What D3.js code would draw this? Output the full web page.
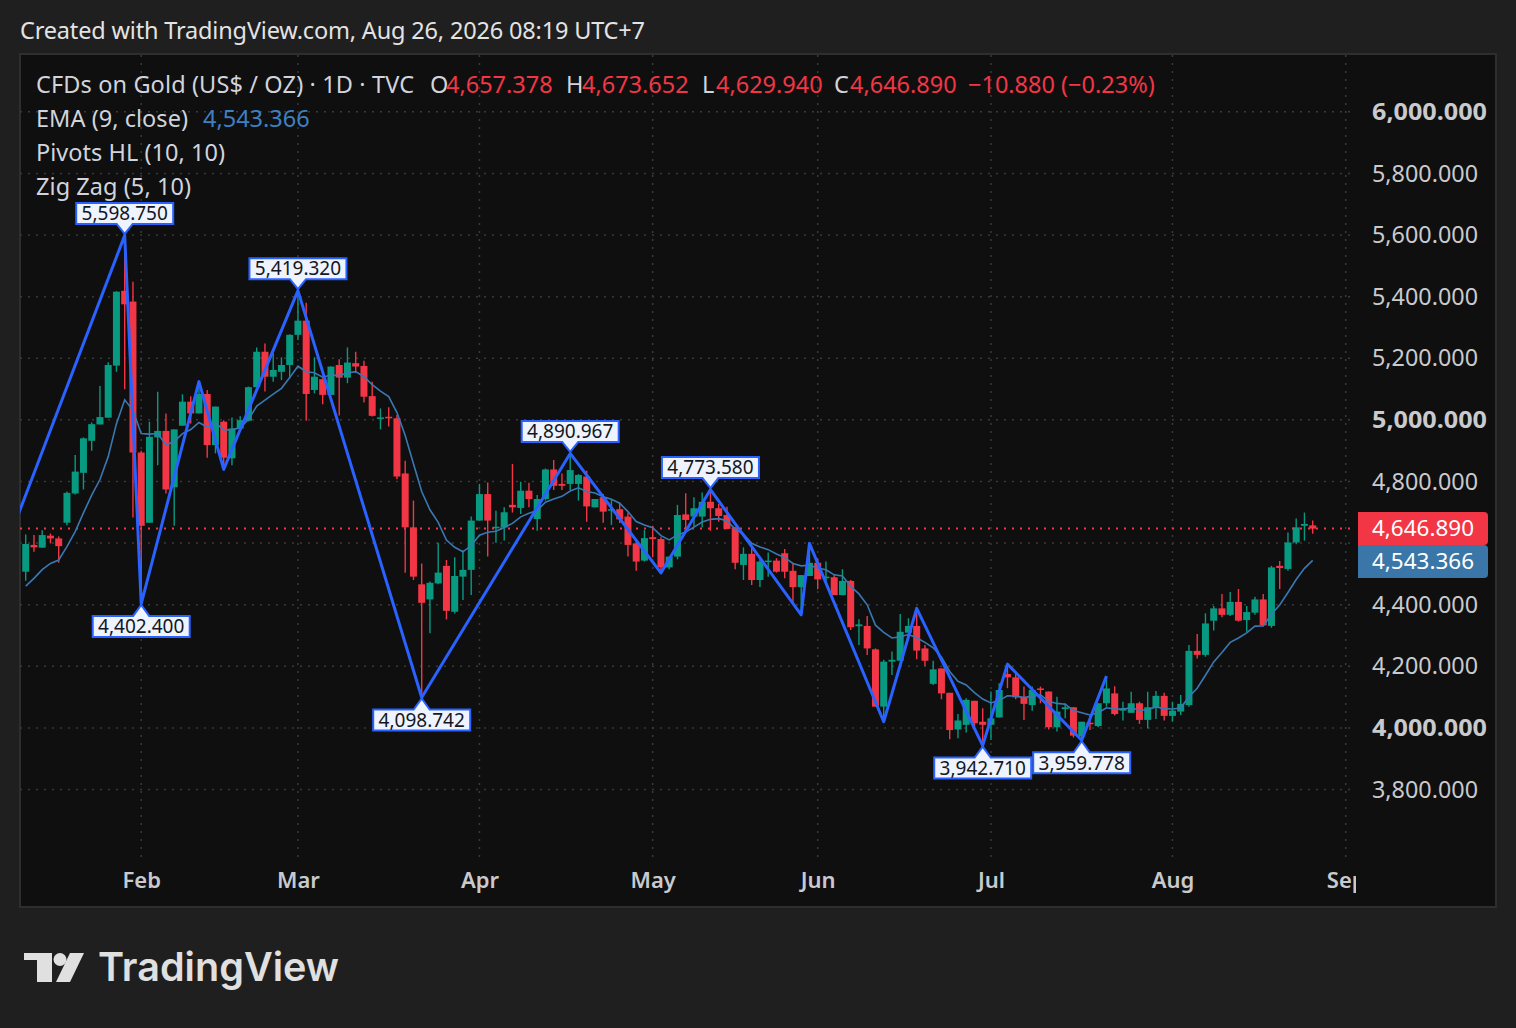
<!DOCTYPE html>
<html><head><meta charset="utf-8">
<script src="https://cdn.jsdelivr.net/npm/d3@7"></script>
<style>
html,body{margin:0;padding:0;background:#1f1f1f;}
svg{display:block;font-family:"Noto Sans","Open Sans",sans-serif;}
</style>
</head><body>
<svg id="chart" width="1516" height="1028"></svg>
<script>
// ---------- DATA ----------
const opens  = [4507,4594,4585,4624,4615,4666,4761,4828,4932,4985,5007,5176,5419,5384,4894,4666,4943,4964,4781,4981,
5059,5021,5084,4918,4994,4875,4972,4997,5106,5221,5140,5156,5178,5276,5322,5097,5132,5081,5178,5137,
5184,5175,5077,5003,5010,5005,4826,4651,4466,4417,4469,4526,4377,4491,4513,4673,4759,4648,4651,4724,
4714,4770,4678,4743,4839,4792,4792,4792,4816,4716,4749,4705,4710,4686,4599,4543,4619,4613,4521,4556,
4693,4686,4686,4734,4713,4691,4651,4529,4565,4480,4540,4543,4567,4510,4457,4493,4536,4486,4489,4431,
4477,4330,4331,4255,4069,4215,4218,4309,4331,4258,4143,4193,4114,3995,4010,4088,4020,4010,4034,4175,
4164,4101,4074,4128,4118,4002,4061,4067,3972,4017,4006,4080,4112,4056,4049,4080,4026,4067,4104,4039,
4053,4074,4250,4237,4348,4388,4367,4409,4350,4374,4417,4331,4526,4516,4602,4656,4657.378];
const highs  = [4628,4626,4642,4631,4621,4767,4886,4943,4991,5110,5187,5418,5598.75,5448,4900,4994,5091,5021,4969,5083,
5077,5124,5097,5043,4999,5008,5012,5108,5235,5248,5216,5203,5278,5419.32,5380,5203,5135,5173,5197,5235,
5221,5192,5124,5037,5041,5016,4867,4738,4534,4475,4601,4545,4554,4577,4686,4792,4797,4705,4716,4857,
4799,4796,4756,4842,4870,4826,4890.967,4824,4835,4743,4759,4743,4731,4699,4610,4642,4656,4619,4556,4724,
4762,4749,4764,4773.58,4727,4718,4651,4586,4586,4554,4569,4551,4581,4536,4496,4599,4551,4540,4496,4515,
4480,4353,4363,4258,4221,4248,4370,4356,4388,4269,4218,4193,4114,4045,4096,4088,4064,4118,4145,4207,
4177,4134,4134,4134,4118,4101,4080,4067,4020,4039,4080,4168,4135,4085,4117,4085,4117,4120,4114,4085,
4107,4269,4305,4372,4396,4435,4441,4451,4396,4426,4435,4526,4542,4634,4680,4699,4673.652];
const lows   = [4478,4572,4585,4599,4536,4658,4758,4774,4900,4985,5007,5156,5099,4683,4402.4,4666,4853,4761,4656,4981,
4988,5021,4877,4891,4839,4853,4970,4995,5106,5092,5124,5129,5135,5259,4997,5086,5051,5081,5014,5119,
5153,5056,5011,4969,4978,4807,4504,4480,4098.742,4307,4466,4352,4371,4415,4431,4673,4556,4601,4608,4699,
4694,4716,4640,4738,4772,4772,4772,4738,4669,4716,4666,4659,4665,4556,4510,4540,4554,4503,4515,4547,
4646,4653,4651,4640,4669,4646,4515,4480,4464,4457,4491,4504,4486,4406,4367,4493,4450,4469,4431,4431,
4318,4269,4237,4069,4020,4172,4218,4309,4223,4201,4139,4093,3963,3966,3985,4002,3942.71,3961,4034,4129,
4093,4026,4056,4080,3995,3988,4031,3969,3959.778,3993,4002,4069,4040,4024,4049,4013,3998,4029,4024,4020,
4042,4069,4225,4231,4316,4359,4363,4345,4312,4367,4333,4325,4451,4510,4596,4608,4629.94];
const closes = [4597,4586,4626,4615,4590,4763,4832,4940,4986,5009,5178,5416,5375,4894,4656,4945,4964,4774,4969,5059,
5021,5084,4918,5043,4877,4972,4999,5106,5221,5140,5162,5178,5276,5322,5084,5140,5081,5173,5137,5186,
5173,5075,5013,5008,5005,4816,4651,4491,4406,4471,4504,4380,4493,4513,4673,4759,4673,4653,4700,4716,
4770,4743,4743,4839,4786,4786,4837,4821,4719,4743,4702,4710,4677,4594,4540,4616,4613,4521,4556,4691,
4675,4713,4734,4713,4688,4646,4536,4565,4480,4540,4543,4507,4507,4457,4496,4536,4482,4491,4431,4477,
4327,4336,4258,4069,4215,4221,4312,4331,4251,4218,4190,4112,3993,4024,4091,4015,4010,4031,4123,4164,
4099,4078,4123,4123,4002,4053,4067,3975,4020,4012,4080,4128,4045,4063,4080,4026,4067,4104,4039,4056,
4078,4250,4237,4339,4388,4367,4409,4348,4376,4417,4333,4521,4519,4602,4651,4662,4646.89];

// EMA(9) value just before the first visible bar
const emaSeed = 4426;
const emaLast = 4543.366;

// Zig Zag vertices (bar index, price); the first one lies left of the visible range
const zzIndex = [-5,12,14,21,24,33,48,66,77,83,94,95,104,108,116,119,128,131];
const zzPrice = [4405,5598.75,4402.4,5124,4839,5419.32,4098.742,4890.967,4503,4773.58,4367,4599,4020,4388,3942.71,4207,3959.778,4168];

// Pivots HL labels
const pivotIndex = [12,14,33,48,66,83,116,128];
const pivotPrice = [5598.75,4402.4,5419.32,4098.742,4890.967,4773.58,3942.71,3959.778];
const pivotType  = ["H","L","H","L","H","H","L","L"];

// Calendar
const firstDay = "2026-01-12", lastAxisDay = "2026-09-01";
const holidays = ["2026-01-19","2026-02-16","2026-04-03","2026-05-25","2026-06-19","2026-07-03"];
const monthLabels = ["Feb","Mar","Apr","May","Jun","Jul","Aug","Sep"];
const priceTicks = [3800,4000,4200,4400,4600,4800,5000,5200,5400,5600,5800,6000];

// Header
const titleText = "Created with TradingView.com, Aug 26, 2026 08:19 UTC+7";
const symbolText = "CFDs on Gold (US$ / OZ) \u00b7 1D \u00b7 TVC";
const ohlcText = ["4,657.378","4,673.652","4,629.940","4,646.890"];
const changeText = "\u221210.880 (\u22120.23%)";

// ---------- BUILD ----------
const fmtDay = d3.timeFormat("%Y-%m-%d");
const parse = d3.timeParse("%Y-%m-%d");
const days = d3.timeDay.range(parse(firstDay), d3.timeDay.offset(parse(lastAxisDay),1))
  .filter(d => d.getDay()!==0 && d.getDay()!==6 && !holidays.includes(fmtDay(d)));
const monthTickIdx = [];
days.forEach((d,i)=>{ if(i>0 && d.getMonth()!==days[i-1].getMonth()) monthTickIdx.push(i); });

const bars = opens.map((o,i)=>({i, o, h:highs[i], l:lows[i], c:closes[i]}));
const ema = []; let prev = emaSeed;
closes.forEach(c => { prev = prev + (c - prev) * 2/10; ema.push(prev); });

const svg = d3.select("#chart");
const W=1516,H=1028;
const plot = {l:20, t:55, r:1356, b:860};

const x = d3.scaleLinear().domain([0,160]).range([25.7, 1345.7]);
const y = d3.scaleLinear().domain([3800,6000]).range([789.5, 111.8]);

const UP="#089981", DOWN="#f23645", ZZ="#2962ff", EMAC="#3a78b3";

svg.append("rect").attr("width",W).attr("height",H).attr("fill","#1f1f1f");
svg.append("rect").attr("x",20).attr("y",54).attr("width",1476).attr("height",853)
  .attr("fill","#0f0f0f").attr("stroke","#2e2e2e").attr("stroke-width",2);

const defs = svg.append("defs");
defs.append("clipPath").attr("id","plotClip").append("rect")
  .attr("x",plot.l).attr("y",plot.t).attr("width",plot.r-plot.l).attr("height",plot.b-plot.t);
defs.append("clipPath").attr("id","timeClip").append("rect")
  .attr("x",plot.l).attr("y",plot.b).attr("width",plot.r-plot.l).attr("height",46);

const g = svg.append("g").attr("clip-path","url(#plotClip)");

// grid
g.append("g").selectAll("line").data(priceTicks).join("line")
  .attr("x1",plot.l).attr("x2",plot.r).attr("y1",d=>y(d)).attr("y2",d=>y(d))
  .attr("stroke","#3a3a3a").attr("stroke-width",1.5).attr("stroke-dasharray","2 6");
g.append("g").selectAll("line").data(monthTickIdx).join("line")
  .attr("x1",d=>x(d)).attr("x2",d=>x(d)).attr("y1",plot.t).attr("y2",plot.b)
  .attr("stroke","#3a3a3a").attr("stroke-width",1.5).attr("stroke-dasharray","2 6");

// last price line
const lastClose = closes[closes.length-1];
g.append("line").attr("x1",plot.l).attr("x2",plot.r).attr("y1",y(lastClose)).attr("y2",y(lastClose))
  .attr("stroke",DOWN).attr("stroke-width",2).attr("stroke-dasharray","2 6");

// candles
const cg = g.append("g");
const bw = 7;
cg.selectAll("line.w").data(bars).join("line").attr("class","w")
  .attr("x1",d=>x(d.i)).attr("x2",d=>x(d.i)).attr("y1",d=>y(d.h)).attr("y2",d=>y(d.l))
  .attr("stroke",d=>d.c>=d.o?UP:DOWN).attr("stroke-width",1.4);
cg.selectAll("rect.b").data(bars).join("rect").attr("class","b")
  .attr("x",d=>x(d.i)-bw/2).attr("width",bw)
  .attr("y",d=>Math.min(y(d.o),y(d.c)))
  .attr("height",d=>Math.max(1.5,Math.abs(y(d.o)-y(d.c))))
  .attr("fill",d=>d.c>=d.o?UP:DOWN);

// EMA
g.append("path").datum(ema).attr("fill","none").attr("stroke",EMAC).attr("stroke-width",1.6)
  .attr("d",d3.line().x((d,i)=>x(i)).y(d=>y(d)));

// Zig Zag
const zz = zzIndex.map((d,i)=>[d,zzPrice[i]]);
g.append("path").datum(zz).attr("fill","none").attr("stroke",ZZ).attr("stroke-width",3)
  .attr("stroke-linejoin","round")
  .attr("d",d3.line().x(d=>x(d[0])).y(d=>y(d[1])));

// Pivot labels
const fmt3 = d3.format(",.3f");
const lg = svg.append("g");
pivotIndex.forEach((pi,k)=>{
  const px=x(pi), py=y(pivotPrice[k]), hi=pivotType[k]==="H";
  const bwid=97, bh=21, half=bwid/2, pw=8;
  const tip = hi? py-1.5 : py+1;
  let top, bot, path;
  if(hi){ bot = tip-10; top = bot-bh;
    path = `M${px-half},${top}H${px+half}V${bot}H${px+pw}L${px},${tip}L${px-pw},${bot}H${px-half}Z`;
  } else { top = tip+11; bot = top+bh;
    path = `M${px-half},${top}H${px-pw}L${px},${tip}L${px+pw},${top}H${px+half}V${bot}H${px-half}Z`;
  }
  lg.append("path").attr("d",path).attr("fill","#eef3fd").attr("stroke",ZZ).attr("stroke-width",2);
  lg.append("text").attr("x",px).attr("y",(top+bot)/2+6.8).attr("text-anchor","middle")
    .attr("font-size",19).attr("fill","#131722").text(fmt3(pivotPrice[k]));
});

// price label boxes (last close, EMA) — computed first so covered tick labels are left out
const lastTop = y(lastClose)-16.5, boxH = 33;
const emaTop = Math.max(y(emaLast)-16.5, lastTop+boxH);
const boxSpan = [lastTop, emaTop+boxH];

// Price axis (tick labels hidden where the value boxes sit, as in TradingView)
const visibleTicks = priceTicks.filter(v => y(v) < boxSpan[0]-10 || y(v) > boxSpan[1]+10);
const ya = svg.append("g").attr("transform","translate(1372,0)")
  .call(d3.axisRight(y).tickValues(visibleTicks).tickSize(0).tickPadding(0).tickFormat(fmt3));
ya.select(".domain").remove();
ya.selectAll("text").attr("font-family","Noto Sans, sans-serif").attr("font-size",23)
  .attr("fill","#c9cacd").attr("dy","0.33em")
  .attr("font-weight",d=>d%1000===0?700:400)
  .attr("textLength",d=>d%1000===0?115:106).attr("lengthAdjust","spacingAndGlyphs");

function axisBox(val, color, top){
  const l=1358, r=1488, h=boxH, rad=4;
  svg.append("path").attr("d",`M${l},${top}H${r-rad}Q${r},${top} ${r},${top+rad}V${top+h-rad}Q${r},${top+h} ${r-rad},${top+h}H${l}Z`)
    .attr("fill",color);
  svg.append("text").attr("x",1372).attr("y",top+h/2+7.8).attr("font-size",22).attr("fill","#ffffff")
    .attr("textLength",102).attr("lengthAdjust","spacingAndGlyphs")
    .text(fmt3(val));
}
axisBox(lastClose, DOWN, lastTop);
axisBox(emaLast, "#3a76a8", emaTop);

// Time axis
const xa = svg.append("g").attr("clip-path","url(#timeClip)").append("g").attr("transform",`translate(0,${plot.b})`)
  .call(d3.axisBottom(x).tickValues(monthTickIdx).tickSize(0).tickPadding(0).tickFormat((d,i)=>monthLabels[i]));
xa.select(".domain").remove();
xa.selectAll("text").attr("font-family","Noto Sans, sans-serif").attr("font-size",22).attr("font-weight",600)
  .attr("fill","#c9cacd").attr("y",28).attr("dy",0);

// Header / legend
const txt = (s,xx,yy,col,len)=>{ const t=svg.append("text").attr("x",xx).attr("y",yy).attr("font-size",23.5).attr("fill",col).text(s);
  if(len) t.attr("textLength",len).attr("lengthAdjust","spacing"); return t; };
txt(titleText,20,39,"#e3e3e3",625);
const grey="#d1d4dc";
txt(symbolText,36,93,grey,378);
const lx=[430,566,702,834], vx=[446,582,716,850], letters=["O","H","L","C"];
letters.forEach((L,i)=>{ txt(L,lx[i],93,grey); txt(ohlcText[i],vx[i],93,DOWN); });
txt(changeText,968,93,DOWN);
txt("EMA (9, close)",36,127,grey,152);
txt(d3.format(",.3f")(emaLast),203,127,"#3d80c2");
txt("Pivots HL (10, 10)",36,161,grey,189);
txt("Zig Zag (5, 10)",36,195,grey,155);

// TradingView logo
const logo = svg.append("g").attr("fill","#e0e0e0");
logo.append("path").attr("d","M24,953H52V982H37V960H24Z");
logo.append("circle").attr("cx",60).attr("cy",959.5).attr("r",6.5);
logo.append("path").attr("d","M70,953H84L70,982H56Z");
logo.append("text").attr("x",98).attr("y",981).attr("font-family","Inter, Noto Sans, sans-serif")
  .attr("font-size",40).attr("font-weight",600).attr("textLength",241).attr("lengthAdjust","spacingAndGlyphs")
  .text("TradingView");
</script>
</body></html>
